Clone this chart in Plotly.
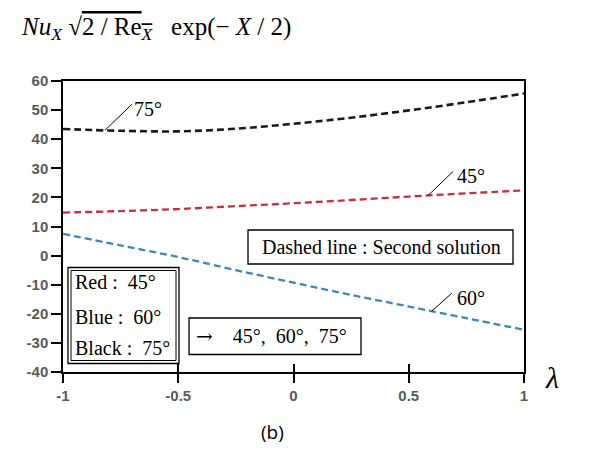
import numpy as np
import plotly.graph_objects as go

# ---- data ----
lam = [-1.0, -0.75, -0.5, -0.25, 0.0, 0.25, 0.5, 0.75, 1.0]
nu_45 = [14.8, 15.3, 16.0, 17.0, 18.0, 19.1, 20.3, 21.4, 22.4]
nu_60 = [7.5, 3.5, -0.5, -5.0, -9.3, -13.5, -17.5, -21.5, -25.5]
nu_75 = [43.5, 42.9, 42.7, 43.6, 45.3, 47.4, 49.9, 52.7, 55.7]

x_ticks = [-1, -0.5, 0, 0.5, 1]
x_tick_text = ["-1", "-0.5", "0", "0.5", "1"]
y_ticks = [60, 50, 40, 30, 20, 10, 0, -10, -20, -30, -40]

SERIF = "Liberation Serif"
OFF = 8  # page body margin
W, H = 590 - OFF, 457 - OFF
L, R, T, B = 63 - OFF, 66, 81 - OFF, 85
PW, PH = W - L - R, H - T - B


def px(xp):  # page pixel x -> paper
    return (xp - 63) / PW


def py(yp):  # page pixel y -> paper
    return (372 - yp) / PH


fig = go.Figure()
dash = "7px,4px"
fig.add_trace(go.Scatter(x=lam, y=nu_75, mode="lines", line=dict(color="#1a1a1a", width=2.6, dash=dash, shape="spline"), showlegend=False))
fig.add_trace(go.Scatter(x=lam, y=nu_45, mode="lines", line=dict(color="#c8303c", width=2.3, dash=dash, shape="spline"), showlegend=False))
fig.add_trace(go.Scatter(x=lam, y=nu_60, mode="lines", line=dict(color="#3f88b8", width=2.3, dash=dash, shape="spline"), showlegend=False))
# empty trace to bring the overlay axis (inner ticks) to life
fig.add_trace(go.Scatter(x=[], y=[], xaxis="x2", showlegend=False))

tickfont = dict(family="Liberation Sans", size=15, color="#5a5a5a")
fig.update_layout(
    width=W, height=H,
    margin=dict(l=L, r=R, t=T, b=B),
    paper_bgcolor="white", plot_bgcolor="white",
    xaxis=dict(range=[-1, 1], tickvals=x_ticks, ticktext=[f"<b>{t}</b>" for t in x_tick_text],
               ticks="outside", ticklen=9, tickwidth=1.5, tickcolor="black",
               showline=True, linecolor="black", linewidth=1.5, mirror=True,
               showgrid=False, zeroline=False, tickfont=tickfont),
    xaxis2=dict(range=[-1, 1], overlaying="x", side="bottom", tickvals=x_ticks,
                ticks="inside", ticklen=8, tickwidth=1.5, tickcolor="black",
                showticklabels=False, showline=False, showgrid=False, zeroline=False),
    yaxis=dict(range=[-40, 60], tickvals=y_ticks, ticktext=[f"<b>{v}</b>" for v in y_ticks],
               ticks="outside", ticklen=10, tickwidth=1.5, tickcolor="black",
               showline=True, linecolor="black", linewidth=1.5, mirror=True,
               showgrid=False, zeroline=False, tickfont=tickfont),
)

tfont = dict(family=SERIF, size=20, color="black")
anns = []
shapes = []
# curve labels with leader lines: (text, lambda on curve, series, leader dx, dy(up), text left px, text center py)
for text, xv, series, dx, dy, tx, ty in [
    ("75°", -0.818, nu_75, 27, 26, 132, 109),
    ("45°", 0.584, nu_45, 25, 24, 455, 175.5),
    ("60°", 0.600, nu_60, 20, 18, 455, 297.5),
]:
    yv = float(np.interp(xv, lam, series))
    shapes.append(dict(type="line", xref="x", yref="y", xsizemode="pixel", ysizemode="pixel",
                       xanchor=xv, yanchor=yv, x0=0, x1=dx, y0=0, y1=dy,
                       line=dict(color="black", width=1), layer="above"))
    anns.append(dict(x=px(tx), y=py(ty), xref="paper", yref="paper", xanchor="left", yanchor="middle",
                     showarrow=False, text=text, font=tfont))

# title formula
anns.append(dict(x=px(19), y=py(29), xref="paper", yref="paper", xanchor="left", yanchor="middle", showarrow=False,
                 text="<i>Nu</i><sub><i>X</i></sub> √<span style='text-decoration:overline'>2 / Re<sub><i>X</i></sub></span>   exp(− <i>X</i> / 2)",
                 font=dict(family=SERIF, size=25, color="black")))
# lambda
anns.append(dict(x=px(552), y=py(377), xref="paper", yref="paper", xanchor="center", yanchor="middle",
                 showarrow=False, text="<i>λ</i>", font=dict(family=SERIF, size=30, color="black")))
# caption
anns.append(dict(x=px(272), y=py(432), xref="paper", yref="paper", xanchor="center", yanchor="middle",
                 showarrow=False, text="(b)", font=dict(family="Open Sans", size=19, color="black")))

# boxes text
anns.append(dict(x=px(381), y=py(247), xref="paper", yref="paper", xanchor="center", yanchor="middle",
                 showarrow=False, text="Dashed line : Second solution", font=tfont))
for t, yc in [("Red :  45°", 282), ("Blue :  60°", 316.5), ("Black :  75°", 348)]:
    anns.append(dict(x=px(73), y=py(yc), xref="paper", yref="paper", xanchor="left", yanchor="middle",
                     showarrow=False, text=t, font=tfont))
anns.append(dict(x=px(194), y=py(336), xref="paper", yref="paper", xanchor="left", yanchor="middle",
                 showarrow=False, text="<span style='font-family:DejaVu Serif'>→</span>    45°,  60°,  75°", font=tfont))
fig.update_layout(annotations=anns)


def rect(x0, y0, x1, y1, w=1.3, fill="white"):
    return dict(type="rect", xref="paper", yref="paper", x0=px(x0), x1=px(x1), y0=py(y1), y1=py(y0),
                line=dict(color="black", width=w), fillcolor=fill, layer="above")


shapes += [
    rect(248, 230, 513, 264),
    rect(68, 267.5, 179, 363.5),
    rect(71, 270.5, 176, 360.5, w=1, fill="rgba(0,0,0,0)"),
    rect(189, 318, 361, 354.5),
]
fig.update_layout(shapes=shapes)

fig.write_html("out.html")
